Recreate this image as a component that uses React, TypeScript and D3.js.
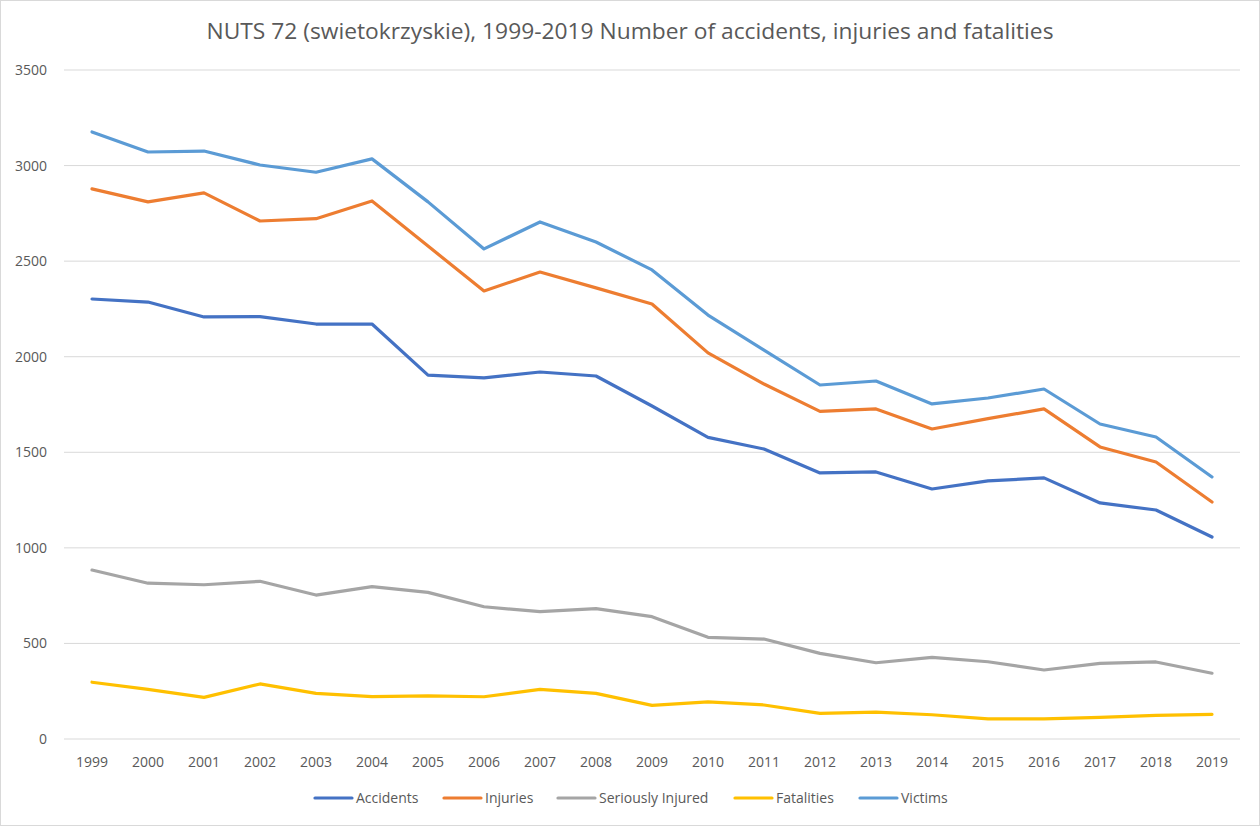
import React from "react";
import * as d3 from "d3";

const years = ["1999","2000","2001","2002","2003","2004","2005","2006","2007","2008","2009","2010","2011","2012","2013","2014","2015","2016","2017","2018","2019"];
const accidents = [2302,2286,2208,2210,2171,2171,1904,1889,1920,1899,1742,1578,1517,1392,1397,1308,1350,1366,1235,1198,1057];
const injuries = [2878,2810,2857,2710,2722,2815,2579,2344,2443,2360,2276,2020,1857,1714,1727,1622,1676,1727,1528,1449,1240];
const seriouslyInjured = [884,815,807,825,753,797,767,692,666,682,640,532,523,448,399,427,404,361,396,403,344];
const fatalities = [297,260,218,288,239,222,226,221,260,239,176,194,178,134,141,127,105,105,113,124,129];
const victims = [3176,3071,3076,3003,2965,3035,2810,2564,2705,2600,2454,2218,2035,1852,1873,1753,1784,1831,1648,1580,1371];
const yTicks = [0,500,1000,1500,2000,2500,3000,3500];

const seriesNames = ["Accidents","Injuries","Seriously Injured","Fatalities","Victims"];
const seriesData = [accidents, injuries, seriouslyInjured, fatalities, victims];
const seriesColors = ["#4472C4","#ED7D31","#A5A5A5","#FFC000","#5B9BD5"];
const legendX = [315,444,558,735,860];

export default function App() {
  const W = 1260, H = 826;
  const x = d3.scaleBand<string>().domain(years).range([64, 1240]);
  const y = d3.scaleLinear().domain([0, 3500]).range([739, 70]);
  const cx = (yr: string) => (x(yr) as number) + x.bandwidth() / 2;
  const line = d3.line<number>().x((_, i) => cx(years[i])).y(v => y(v));
  const font = "'Open Sans', 'Liberation Sans', sans-serif";
  return (
    <svg width={W} height={H} style={{ position: "fixed", left: 0, top: 0, background: "#fff" }}>
      <rect x={0.5} y={0.5} width={W - 1} height={H - 1} fill="#fff" stroke="#D9D9D9" />
      <text x={630} y={39} textAnchor="middle" fontFamily={font} fontSize={21} textLength={847} lengthAdjust="spacingAndGlyphs" fill="#595959">
        NUTS 72 (swietokrzyskie), 1999-2019 Number of accidents, injuries and fatalities
      </text>
      {yTicks.map(t => (
        <g key={t}>
          <line x1={64} x2={1240} y1={y(t)} y2={y(t)} stroke="#D9D9D9" strokeWidth={1} />
          <text x={47} y={y(t) + 5} textAnchor="end" fontFamily={font} fontSize={14} fill="#595959">{t}</text>
        </g>
      ))}
      {years.map(yr => (
        <text key={yr} x={cx(yr)} y={767} textAnchor="middle" fontFamily={font} fontSize={14} fill="#595959">{yr}</text>
      ))}
      {seriesData.map((d, i) => (
        <path key={i} d={line(d) as string} fill="none" stroke={seriesColors[i]} strokeWidth={3.2} strokeLinejoin="round" strokeLinecap="round" />
      ))}
      {seriesNames.map((n, i) => (
        <g key={n}>
          <line x1={legendX[i]} x2={legendX[i] + 37} y1={798} y2={798} stroke={seriesColors[i]} strokeWidth={3.2} strokeLinecap="round" />
          <text x={legendX[i] + 41} y={803} fontFamily={font} fontSize={14} fill="#595959">{n}</text>
        </g>
      ))}
    </svg>
  );
}
